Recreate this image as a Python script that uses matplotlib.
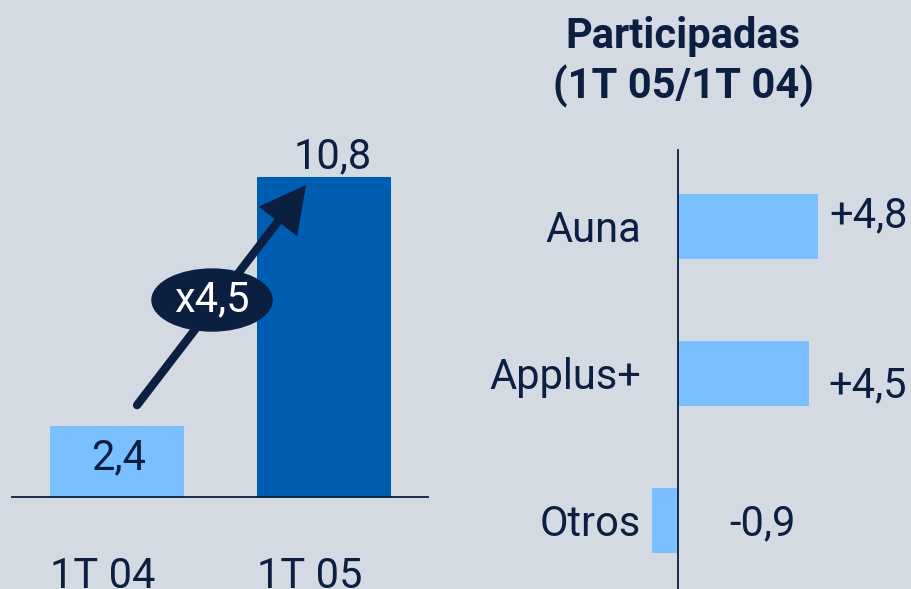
import matplotlib
matplotlib.use("Agg")
import matplotlib.pyplot as plt
from matplotlib.patches import Ellipse

# data
periods = ["1T 04", "1T 05"]
results = [2.4, 10.8]
period_labels = ["2,4", "10,8"]
growth_label = "x4,5"

companies = ["Auna", "Applus+", "Otros"]
changes = [4.8, 4.5, -0.9]
change_labels = ["+4,8", "+4,5", "-0,9"]
title_lines = ["Participadas", "(1T 05/1T 04)"]

# style
BG = "#d3dae2"
LIGHT = "#7abfff"
DARK = "#005eb2"
NAVY = "#0b1f40"
FONT = ["Roboto", "DejaVu Sans"]
FS = 30

W, H = 911, 589
PT = 0.72  # points per pixel at dpi 100

plt.rcParams["font.family"] = FONT
fig = plt.figure(figsize=(W / 100, H / 100), dpi=100, facecolor=BG)


def px_axes(left, top, right, bottom):
    return fig.add_axes([left / W, 1 - bottom / H, (right - left) / W, (bottom - top) / H])


# ---- left: column chart ----
ax = px_axes(12, 141, 428, 497)
ax.set_facecolor("none")
ax.bar([0, 1], results, width=0.647, color=[LIGHT, DARK], zorder=2)
ax.set_xlim(-0.507, 1.502)
ax.set_ylim(0, 12.01)
for s in ["top", "left", "right"]:
    ax.spines[s].set_visible(False)
ax.spines["bottom"].set_color(NAVY)
ax.spines["bottom"].set_linewidth(1.3)
ax.set_xticks([])
ax.set_yticks([])

# value labels: first inside the bar, second on top
val_dy = [-43, 9]
val_dx = [2, 9]
for i, (v, lab) in enumerate(zip(results, period_labels)):
    ax.annotate(lab, xy=(i, v), xytext=(val_dx[i] * PT, val_dy[i] * PT),
                textcoords="offset points", ha="center", va="baseline",
                fontsize=FS, color=NAVY, zorder=5)
for i, lab in enumerate(periods):
    ax.annotate(lab, xy=(i, 0), xytext=(-14 * PT, -91 * PT),
                textcoords="offset points", ha="center", va="baseline",
                fontsize=FS, color=NAVY, annotation_clip=False)

# growth arrow + bubble
start = (0.097, results[0] + 0.7)
end = (0.913, results[1] - 0.27)
ax.annotate("", xy=end, xytext=start,
            arrowprops=dict(arrowstyle="-|>,head_length=0.95,head_width=0.5",
                            lw=6, color=NAVY, mutation_scale=25,
                            shrinkA=0, shrinkB=0, joinstyle="miter"),
            zorder=4)
cx = (start[0] + end[0]) / 2 - 0.046
cy = (start[1] + end[1]) / 2 - 0.17
ax.add_patch(Ellipse((cx, cy), 0.58, 2.09, color=NAVY, zorder=5))
ax.text(cx, cy, growth_label, ha="center", va="center", fontsize=FS,
        color="white", zorder=6)

# ---- right: horizontal bars ----
ax2 = px_axes(640, 150, 911, 589)
ax2.set_facecolor("none")
ax2.barh(range(len(companies)), changes, height=0.442, color=LIGHT, zorder=2)
ax2.set_xlim(-1.301, 7.979)
ax2.set_ylim(2.469, -0.517)
for s in ["top", "bottom", "right"]:
    ax2.spines[s].set_visible(False)
ax2.spines["left"].set_position(("data", 0))
ax2.spines["left"].set_color(NAVY)
ax2.spines["left"].set_linewidth(1.3)
ax2.spines["left"].set_zorder(3)
ax2.set_xticks([])
ax2.set_yticks([])

for i, name in enumerate(companies):
    ax2.annotate(name, xy=(0, i), xytext=(-37 * PT, -16 * PT),
                 textcoords="offset points", ha="right", va="baseline",
                 fontsize=FS, color=NAVY, annotation_clip=False)

lab_dx = [11, 19, 78]
lab_dy = [-1, -24, -15]
for i, (v, lab) in enumerate(zip(changes, change_labels)):
    ax2.annotate(lab, xy=(v, i), xytext=(lab_dx[i] * PT, lab_dy[i] * PT),
                 textcoords="offset points", ha="left", va="baseline",
                 fontsize=FS, color=NAVY, annotation_clip=False)

fig.text(683 / W, 1 - 48 / H, title_lines[0], ha="center", va="baseline",
         fontsize=FS, fontweight="bold", color=NAVY)
fig.text(683 / W, 1 - 99 / H, title_lines[1], ha="center", va="baseline",
         fontsize=FS, fontweight="bold", color=NAVY)

fig.savefig("out.png", dpi=100, facecolor=BG)
